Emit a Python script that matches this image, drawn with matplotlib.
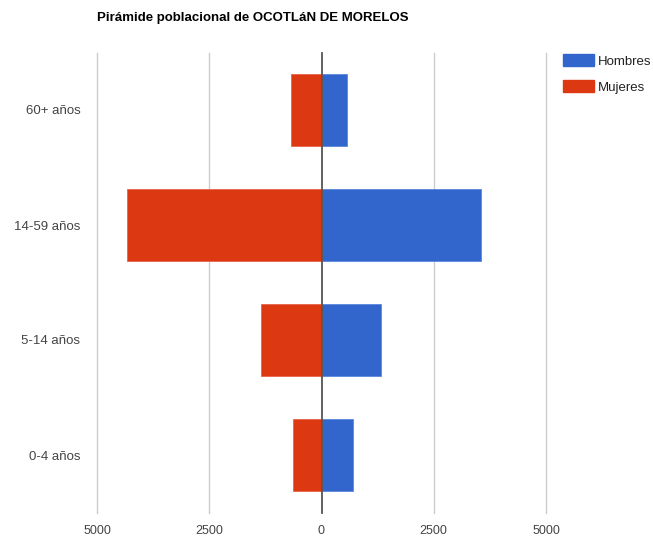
import matplotlib
matplotlib.use("Agg")
import matplotlib.pyplot as plt
from matplotlib.patches import Patch

categories = ["0-4 años", "5-14 años", "14-59 años", "60+ años"]
hombres = [707, 1333, 3560, 560]
mujeres = [640, 1350, 4323, 670]
xticks = [-5000, -2500, 0, 2500, 5000]
xticklabels = ["5000", "2500", "0", "2500", "5000"]

plt.rcParams['font.family'] = ['Liberation Sans', 'DejaVu Sans']

BLUE = "#3366CC"
RED = "#DC3912"

fig = plt.figure(figsize=(6.53, 5.39), dpi=100)
ax = fig.add_axes([97/653, 26.5/539, (546-97)/653, (512.5-52.5)/539])

y = list(range(len(categories)))
ax.barh(y, hombres, height=0.62, color=BLUE, edgecolor="#5b86dd", linewidth=0.6, zorder=2)
ax.barh(y, [-m for m in mujeres], height=0.62, color=RED, edgecolor="#e8634a", linewidth=0.6, zorder=2)

ax.set_xlim(-5000, 5000)
ax.set_ylim(-0.5, len(categories) - 0.5)
ax.set_xticks(xticks)
ax.set_xticklabels(xticklabels)
ax.set_yticks(y)
ax.set_yticklabels(categories)

for xv in xticks:
    if xv == 0:
        ax.axvline(xv, color="#555555", linewidth=1.3, zorder=3, clip_on=False)
    else:
        ax.axvline(xv, color="#cccccc", linewidth=1.0, zorder=1, clip_on=False)

for s in ax.spines.values():
    s.set_visible(False)
ax.tick_params(axis="x", length=0, pad=9, labelsize=9, labelcolor="#444444")
ax.tick_params(axis="y", length=0, pad=12, labelsize=9.5, labelcolor="#444444")

fig.text(97/653, 1 - 18/539, "Pirámide poblacional de OCOTLáN DE MORELOS",
         fontsize=9.5, fontweight="bold", color="#000000", ha="left", va="center")

handles = [Patch(facecolor=BLUE, edgecolor=BLUE), Patch(facecolor=RED, edgecolor=RED)]
fig.legend(handles, ["Hombres", "Mujeres"], loc="upper left",
           bbox_to_anchor=(558/653, 1 - 49/539), frameon=False, fontsize=9.5,
           handlelength=2.35, handleheight=1.0, handletextpad=0.3, labelspacing=0.95,
           labelcolor="#222222", borderaxespad=0)

fig.savefig("out.png", dpi=100)
